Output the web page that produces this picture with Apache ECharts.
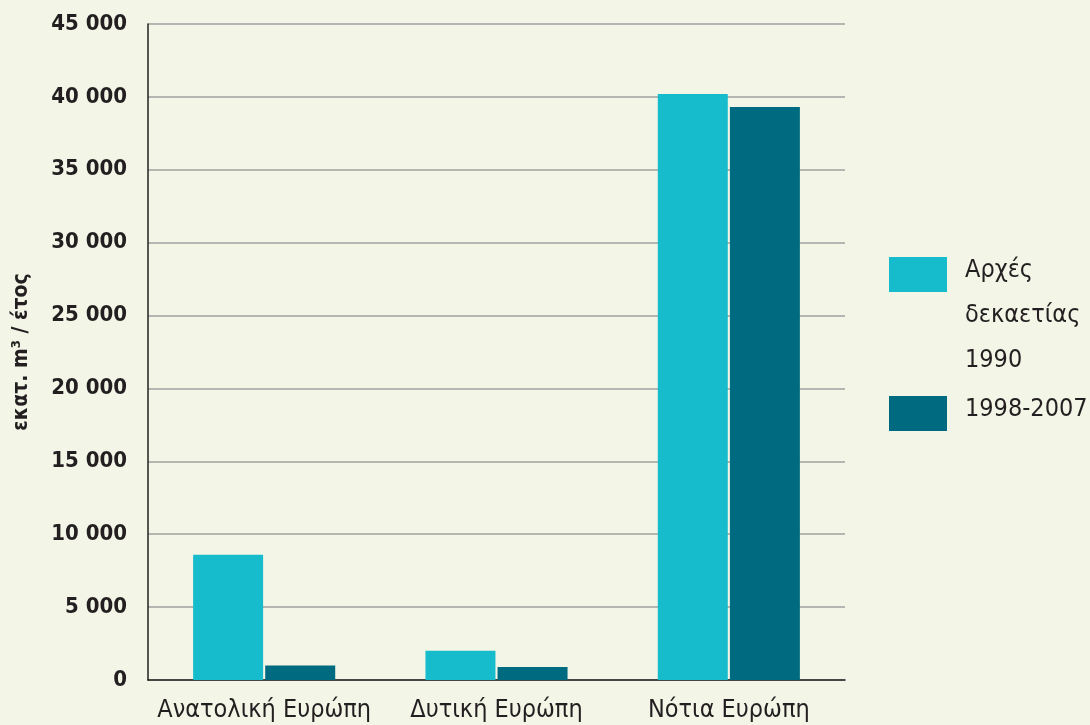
<!DOCTYPE html>
<html><head><meta charset="utf-8">
<script src="https://cdn.jsdelivr.net/npm/echarts@6/dist/echarts.min.js"></script>
<style>html,body{margin:0;padding:0;background:#f3f5e6;}#c{width:1090px;height:725px;}</style>
</head><body><div id="c"></div>
<script>
const categories = ['Ανατολική Ευρώπη', 'Δυτική Ευρώπη', 'Νότια Ευρώπη'];
const seriesNames = ['Αρχές\nδεκαετίας\n1990', '1998-2007'];
const early1990s = [8600, 2000, 40200];
const period19982007 = [1000, 900, 39300];
const yTitle = 'εκατ. m³ / έτος';
const colors = ['#17bccc', '#006b80'];
const FONT = "'DejaVu Sans Condensed', 'Liberation Sans Narrow', sans-serif";
const TXT = '#231f20';

const chart = echarts.init(document.getElementById('c'));
const legendGraphic = [];
const legendTops = [257, 396];
seriesNames.forEach((n, i) => {
  legendGraphic.push({type: 'rect', left: 889, top: legendTops[i], shape: {width: 58, height: 35}, style: {fill: colors[i]}});
  legendGraphic.push({type: 'text', left: 965, top: legendTops[i] - 9, style: {text: n, font: "25px " + FONT, fill: TXT, lineHeight: 45}});
});
chart.setOption({
  backgroundColor: '#f3f5e6',
  animation: false,
  grid: {left: 148, right: 245, top: 24, bottom: 45, containLabel: false},
  xAxis: {
    type: 'category', data: categories,
    axisLine: {lineStyle: {color: TXT, width: 1.5}},
    axisTick: {show: false},
    axisLabel: {interval: 0, color: TXT, fontFamily: FONT, fontSize: 25, margin: 18}
  },
  yAxis: {
    type: 'value', min: 0, max: 45000, interval: 5000,
    name: yTitle, nameLocation: 'middle', nameGap: 116, nameRotate: 90,
    nameTextStyle: {color: TXT, fontFamily: FONT, fontSize: 21, fontWeight: 'bold'},
    axisLine: {show: true, lineStyle: {color: TXT, width: 1.5}},
    axisTick: {show: false},
    splitLine: {lineStyle: {color: '#a0a0a0', width: 1.5}},
    axisLabel: {color: TXT, fontFamily: FONT, fontSize: 22, fontWeight: 'bold', margin: 21,
      formatter: v => v === 0 ? '0' : String(v).replace(/\B(?=(\d{3})+(?!\d))/g, ' ')}
  },
  graphic: legendGraphic,
  series: [
    {name: seriesNames[0], type: 'bar', data: early1990s, barWidth: 70, barGap: '3%', itemStyle: {color: colors[0]}},
    {name: seriesNames[1], type: 'bar', data: period19982007, barWidth: 70, barGap: '3%', itemStyle: {color: colors[1]}}
  ]
});
</script></body></html>
